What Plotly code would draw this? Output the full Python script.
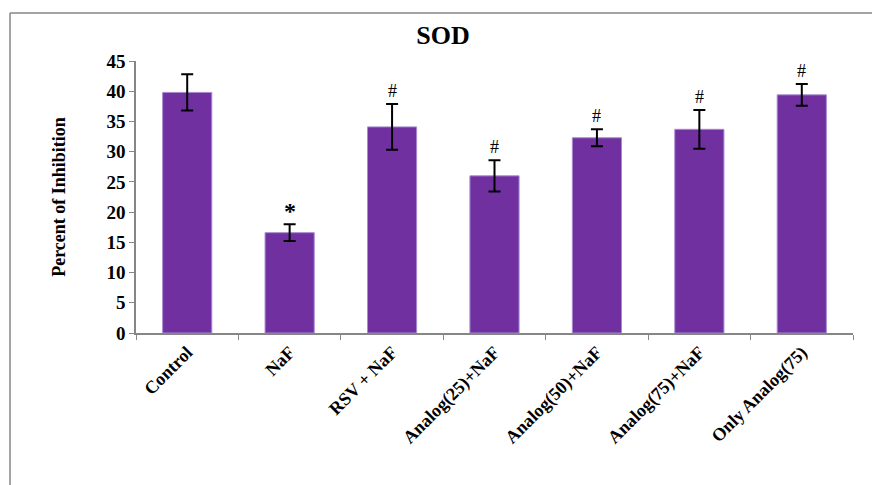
import plotly.graph_objects as go

categories = ["Control", "NaF", "RSV + NaF", "Analog(25)+NaF", "Analog(50)+NaF", "Analog(75)+NaF", "Only Analog(75)"]
values = [39.8, 16.6, 34.1, 26.0, 32.3, 33.7, 39.4]
errors = [3.0, 1.4, 3.8, 2.6, 1.4, 3.2, 1.8]
marks = ["", "*", "#", "#", "#", "#", "#"]
y_ticks = [0, 5, 10, 15, 20, 25, 30, 35, 40, 45]

FONT = "Liberation Serif"
AXIS_COLOR = "#868686"

fig = go.Figure()
fig.add_trace(go.Bar(
    x=categories, y=values,
    marker=dict(color="#7030A0", line=dict(color="#a98bd0", width=1)),
    error_y=dict(type="data", array=errors, visible=True, color="black", thickness=2, width=6),
    showlegend=False,
))

for c, v, e, m in zip(categories, values, errors, marks):
    if not m:
        continue
    fig.add_annotation(
        x=c, y=v + e, text=(f"<b>{m}</b>" if m == "*" else m),
        showarrow=False, yanchor="bottom", yshift=(-2 if m == "*" else 1),
        font=dict(family=FONT, size=(24 if m == "*" else 18), color="black"),
    )

# outer chart frame (left and top edges visible)
fig.add_shape(type="line", xref="paper", yref="paper", x0=-0.1757, x1=-0.1757, y0=1.1765, y1=-0.6, line=dict(color=AXIS_COLOR, width=1.5))
fig.add_shape(type="line", xref="paper", yref="paper", x0=-0.1757, x1=1.03, y0=1.1765, y1=1.1765, line=dict(color=AXIS_COLOR, width=1.5))

fig.update_layout(
    width=872, height=485,
    margin=dict(l=136, r=19, t=61, b=152, autoexpand=False),
    paper_bgcolor="white", plot_bgcolor="white",
    bargap=0.52,
    title=dict(text="<b>SOD</b>", x=443/872, xref="container", xanchor="center", y=1 - 35/485, yanchor="middle",
               font=dict(family=FONT, size=26, color="black")),
    font=dict(family=FONT, color="black"),
)
fig.update_xaxes(
    type="category", tickangle=-45, showline=True, linecolor=AXIS_COLOR, linewidth=1.5,
    ticks="outside", tickson="boundaries", ticklen=5, tickcolor=AXIS_COLOR,
    tickfont=dict(family=FONT, size=18, color="black"),
    tickvals=categories, ticktext=[f"<b>{c}</b>" for c in categories],
    showgrid=False, automargin=False,
)
fig.update_yaxes(
    range=[0, 45], tickvals=y_ticks, ticktext=[f"<b>{t}</b>" for t in y_ticks],
    showline=True, linecolor=AXIS_COLOR, linewidth=1.5,
    ticks="outside", ticklen=5, tickcolor=AXIS_COLOR,
    tickfont=dict(family=FONT, size=19, color="black"),
    showgrid=False, zeroline=False, automargin=False,
    title=dict(text="<b>Percent of Inhibition</b>", font=dict(family=FONT, size=18, color="black"), standoff=36),
)

fig.write_html("out.html", config={"displayModeBar": False},
               post_script="document.body.style.margin='0';document.body.style.overflow='hidden';")
